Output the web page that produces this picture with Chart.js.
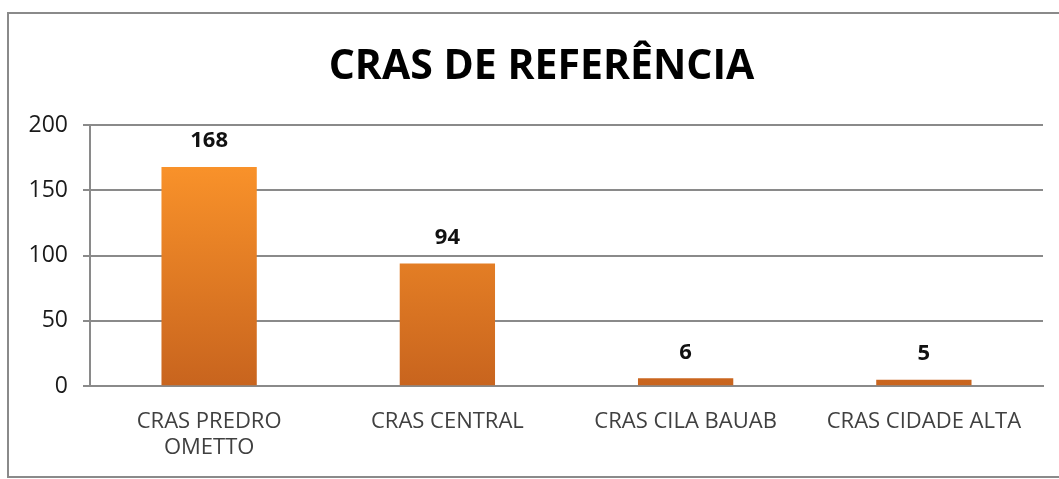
<!DOCTYPE html>
<html>
<head>
<meta charset="utf-8">
<script src="https://cdn.jsdelivr.net/npm/chart.js@4"></script>
<style>
	html, body { margin: 0; padding: 0; background: #fff; }
	#frame {
		position: absolute;
		left: 7px;
		top: 12px;
		width: 1070px;
		height: 462px;
		border: 2px solid #8a8a8a;
	}
	#wrap { position: absolute; left: 0; top: 0; width: 1059px; height: 479px; }
</style>
</head>
<body>
<div id="frame"></div>
<div id="wrap"><canvas id="chart" width="1059" height="479"></canvas></div>
<script>
	var FONT = "'Liberation Sans Narrow', 'Open Sans', 'Noto Sans', sans-serif";

	// chart data
	var categories = [ [ 'CRAS PREDRO', 'OMETTO' ], 'CRAS CENTRAL', 'CRAS CILA BAUAB', 'CRAS CIDADE ALTA' ];
	var values = [ 168, 94, 6, 5 ];
	var yTicks = [ 0, 50, 100, 150, 200 ];
	var chartTitle = 'CRAS DE REFERÊNCIA';

	// value labels drawn above each bar
	var valueLabels = {
		id: 'valueLabels',
		afterDatasetsDraw: function( chart ) {
			var ctx = chart.ctx;
			var meta = chart.getDatasetMeta( 0 );
			ctx.save();
			ctx.font = 'bold 22px ' + FONT;
			ctx.fillStyle = '#111';
			ctx.textAlign = 'center';
			ctx.textBaseline = 'bottom';
			meta.data.forEach( function( bar, i ) {
				ctx.fillText( String( values[ i ] ), bar.x, bar.y - 15 );
			} );
			ctx.restore();
		}
	};

	// the title in the original sits a little right of the canvas centre
	var titleShift = {
		id: 'titleShift',
		afterLayout: function( chart ) {
			if ( chart.titleBlock ) {
				chart.titleBlock.left += 40;
			}
		}
	};

	function barGradient( context ) {
		var area = context.chart.chartArea;
		if ( ! area ) {
			return '#e87f25';
		}
		var g = context.chart.ctx.createLinearGradient( 0, area.top + 40, 0, area.bottom );
		g.addColorStop( 0, '#f9922a' );
		g.addColorStop( 1, '#c8641e' );
		return g;
	}

	new Chart( document.getElementById( 'chart' ), {
		type: 'bar',
		data: {
			labels: categories,
			datasets: [ {
				data: values,
				backgroundColor: barGradient,
				borderWidth: 0,
				categoryPercentage: 1,
				barPercentage: 0.4
			} ]
		},
		options: {
			responsive: false,
			animation: false,
			layout: { padding: { left: 0, right: 16, top: 0, bottom: 4 } },
			plugins: {
				legend: { display: false },
				tooltip: { enabled: false },
				title: {
					display: true,
					text: chartTitle,
					color: '#000',
					font: { family: FONT, size: 41, weight: 'bold', lineHeight: 1.2 },
					padding: { top: 43, bottom: 33 }
				}
			},
			scales: {
				x: {
					grid: { display: false },
					border: { display: true, color: '#8a8a8a', width: 2 },
					ticks: {
						color: '#404040',
						font: { family: FONT, size: 22 },
						padding: 14,
						maxRotation: 0,
						autoSkip: false
					}
				},
				y: {
					min: 0,
					max: 200,
					afterBuildTicks: function( scale ) {
						scale.ticks = yTicks.map( function( v ) { return { value: v }; } );
					},
					afterFit: function( scale ) {
						scale.width = 90;
					},
					grid: {
						color: '#8a8a8a',
						lineWidth: 2,
						tickLength: 7
					},
					border: { display: true, color: '#8a8a8a', width: 2 },
					ticks: {
						color: '#1a1a1a',
						font: { family: FONT, size: 23 },
						padding: 15
					}
				}
			}
		},
		plugins: [ valueLabels, titleShift ]
	} );
</script>
</body>
</html>
